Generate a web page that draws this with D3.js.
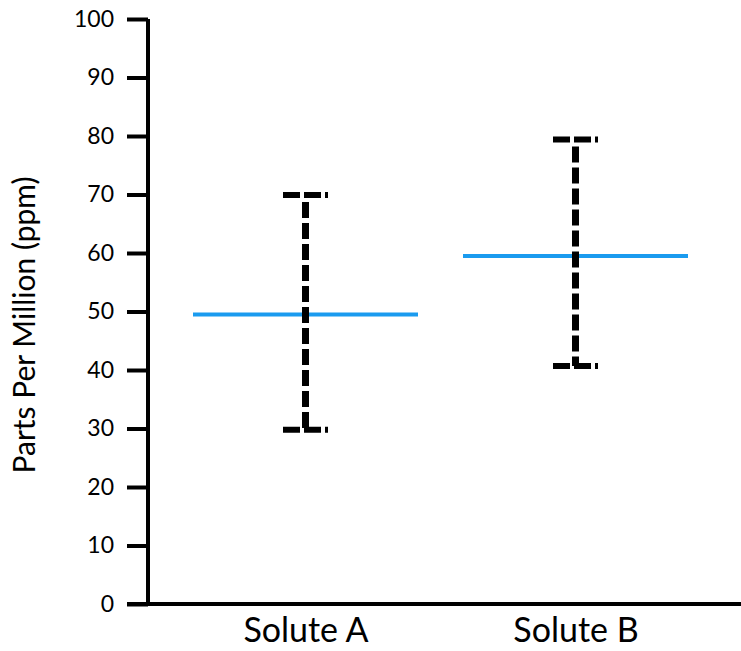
<!DOCTYPE html>
<html><head><meta charset="utf-8">
<script src="https://cdn.jsdelivr.net/npm/d3@7"></script>
<style>body{margin:0;background:#fff}svg{display:block}text{font-family:Lato,"Open Sans",sans-serif}</style>
</head><body>
<script>
const categories = ["Solute A", "Solute B"];
const means = [49.5, 59.5];
const lows = [29.8, 40.7];
const highs = [69.9, 79.4];
const yTicks = [0,10,20,30,40,50,60,70,80,90,100];

const W = 741, H = 651;
const svg = d3.select("body").append("svg").attr("width", W).attr("height", H);
const y = d3.scaleLinear().domain([0,100]).range([604,19]);
const x = d3.scalePoint().domain(categories).range([305.5,575.5]);

const yAxis = svg.append("g").attr("transform","translate(148,0)")
  .call(d3.axisLeft(y).tickValues(yTicks).tickSize(21).tickPadding(13));
yAxis.select(".domain").attr("stroke","#000").attr("stroke-width",4)
  .attr("d", `M0,${y(100)}V${y(0)}`);
yAxis.selectAll(".tick line").attr("stroke","#000").attr("stroke-width",4);
yAxis.selectAll(".tick text").style("font-size","23px").attr("fill","#000");

svg.append("line").attr("x1",127).attr("x2",741).attr("y1",y(0)).attr("y2",y(0))
  .attr("stroke","#000").attr("stroke-width",4);

const xAxis = svg.append("g").attr("transform",`translate(0,${y(0)})`)
  .call(d3.axisBottom(x).tickSize(0).tickPadding(14));
xAxis.select(".domain").remove();
xAxis.selectAll(".tick text").style("font-size","34px").attr("fill","#000");

svg.append("text").attr("transform",`translate(35,${(172+478)/2}) rotate(-90)`)
  .attr("text-anchor","middle").style("font-size","30px").text("Parts Per Million (ppm)");

const g = svg.append("g");
categories.forEach((c,i)=>{
  const cx = x(c);
  const halfLine = 112.5, capHalf = 22.5;
  g.append("line").attr("x1",cx-halfLine).attr("x2",cx+halfLine)
    .attr("y1",y(means[i])).attr("y2",y(means[i]))
    .attr("stroke","#1a9bef").attr("stroke-width",4);
  g.append("line").attr("x1",cx).attr("x2",cx)
    .attr("y1",y(highs[i])+7).attr("y2",y(lows[i]))
    .attr("stroke","#000").attr("stroke-width",7).attr("stroke-dasharray","16,5");
  [highs[i], lows[i]].forEach(v=>{
    g.append("line").attr("x1",cx-capHalf).attr("x2",cx+capHalf)
      .attr("y1",y(v)).attr("y2",y(v))
      .attr("stroke","#000").attr("stroke-width",6).attr("stroke-dasharray","17,4");
  });
});
</script>
</body></html>
